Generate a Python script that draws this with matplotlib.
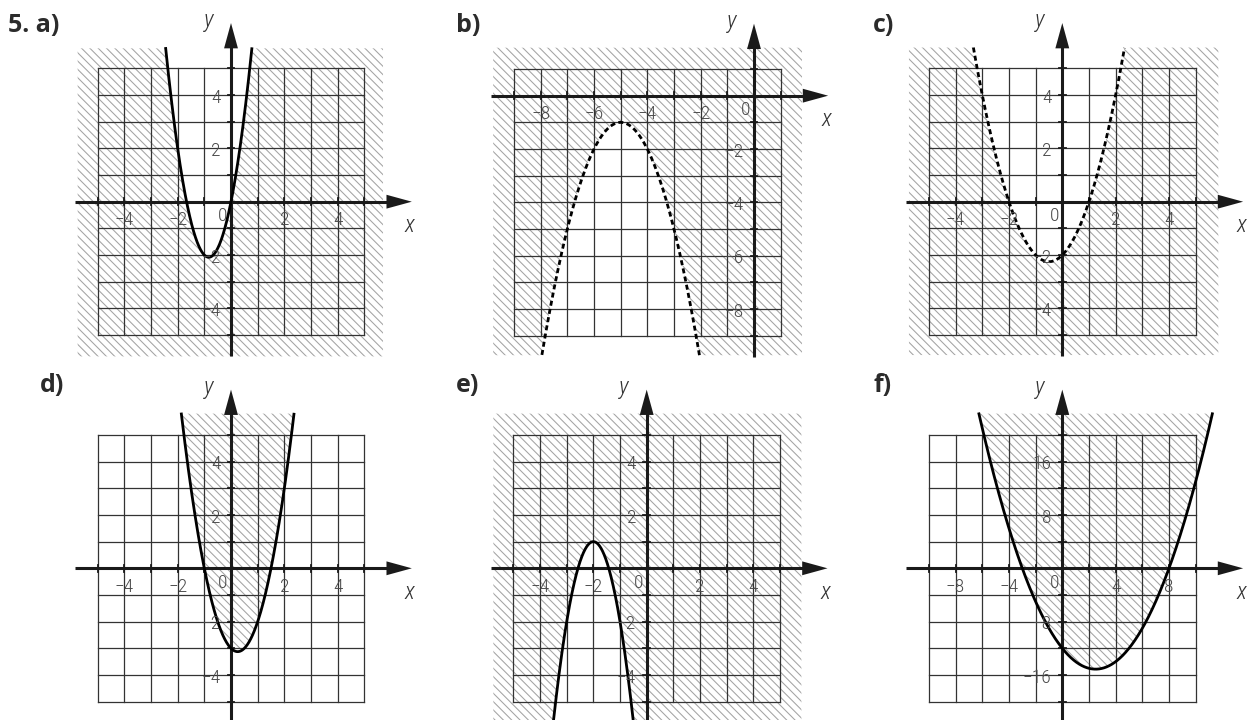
import numpy as np
import matplotlib.pyplot as plt

W, H = 1247, 720
UNIT = 26.67  # pixels per grid cell

# panel titles
titles = ["5. a)", "b)", "c)", "d)", "e)", "f)"]

# quadratic coefficients [a, b, c]
coef_a = [3, 5, 0]
coef_b = [-1, -10, -26]
coef_c = [1, 1, -2]
coef_d = [2, -1, -3]
coef_e = [-3, -12, -11]
coef_f = [0.5, -2.5, -12]

# grid extent in cells: x0, x1, y0, y1
grid_std = [-5, 5, -5, 5]
grid_b = [-9, 1, -9, 1]

# data units per grid cell (x, y)
step_std = [1, 1]
step_f = [2, 4]

# tick labels
xlab_std = [-4, -2, 2, 4]
ylab_std = [-4, -2, 2, 4]
xlab_b = [-8, -6, -4, -2]
ylab_b = [-8, -6, -4, -2]
xlab_f = [-8, -4, 4, 8]
ylab_f = [-16, -8, 8, 16]

# which side of the curve is hatched, and whether the border is dashed
side = ["below", "above", "below", "above", "above", "above"]
dashed = [False, True, True, False, False, False]

hatch_col = "#a3a3a3"
plt.rcParams["hatch.color"] = hatch_col
plt.rcParams["hatch.linewidth"] = 0.75

label_font = ["Roboto Condensed", "Liberation Sans Narrow", "Liberation Sans"]
title_font = ["Open Sans", "DejaVu Sans"]
ink = "#1a1a1a"
label_col = "#4a4a4a"

fig = plt.figure(figsize=(W / 100, H / 100), dpi=100)


def fmt(v):
    return str(v).replace("-", "\u2212")


def draw_panel(ox, oy, title, tx, ty, coef, grid, step, xlabs, ylabs, box, mode, dash):
    gx0, gx1, gy0, gy1 = grid
    xlo, xhi = gx0 - 1.3, gx1 + 2.4
    ylo, yhi = gy0 - 1.3, gy1 + 2.4
    ax = fig.add_axes([(ox + xlo * UNIT) / W, 1 - (oy - ylo * UNIT) / H,
                       (xhi - xlo) * UNIT / W, (yhi - ylo) * UNIT / H])
    ax.set_xlim(xlo, xhi)
    ax.set_ylim(ylo, yhi)
    ax.set_axis_off()
    ax.patch.set_visible(False)

    # curve in cell units
    bx0, bx1, by0, by1 = box
    xs = np.linspace(bx0, bx1, 4000)
    ys = np.polyval(coef, xs * step[0]) / step[1]
    yc = np.clip(ys, by0, by1)

    # hatched solution region
    if mode == "below":
        ax.fill_between(xs, by0, yc, facecolor="none", edgecolor=hatch_col,
                        hatch="\\\\\\\\", linewidth=0, zorder=1)
    else:
        ax.fill_between(xs, yc, by1, facecolor="none", edgecolor=hatch_col,
                        hatch="\\\\\\\\", linewidth=0, zorder=1)

    # grid
    for i in range(gx0, gx1 + 1):
        ax.plot([i, i], [gy0, gy1], color="#333333", lw=0.9, zorder=2)
    for j in range(gy0, gy1 + 1):
        ax.plot([gx0, gx1], [j, j], color="#333333", lw=0.9, zorder=2)

    # axes with arrows
    xtip, ytip = gx1 + 1.78, gy1 + 1.7
    ax.plot([gx0 - 0.85, xtip - 0.5], [0, 0], color=ink, lw=2.2, zorder=3,
            solid_capstyle="butt")
    ax.plot([0, 0], [gy0 - 0.78, ytip - 0.5], color=ink, lw=2.2, zorder=3,
            solid_capstyle="butt")
    ax.fill([xtip - 0.95, xtip, xtip - 0.95], [0.26, 0, -0.26], color=ink,
            lw=0, zorder=3)
    ax.fill([0.26, 0, -0.26], [ytip - 0.95, ytip, ytip - 0.95], color=ink,
            lw=0, zorder=3)
    for i in range(gx0, gx1 + 1):
        if i != 0:
            ax.plot([i, i], [-0.13, 0.13], color=ink, lw=1.3, zorder=3)
    for j in range(gy0, gy1 + 1):
        if j != 0:
            ax.plot([-0.13, 0.13], [j, j], color=ink, lw=1.3, zorder=3)

    # curve
    yplot = np.where((ys >= by0) & (ys <= by1), ys, np.nan)
    if dash:
        ax.plot(xs, yplot, color="black", lw=2.0, dashes=(1.8, 1.2), zorder=4)
    else:
        ax.plot(xs, yplot, color="black", lw=2.0, zorder=4)

    # tick labels
    for v in xlabs:
        ax.text(v / step[0], -0.7, fmt(v), ha="center", va="center",
                fontsize=14, color=label_col, family=label_font,
                fontweight="light", zorder=5)
    for v in ylabs:
        ax.text(-0.4, v / step[1] - 0.1, fmt(v), ha="right", va="center",
                fontsize=14, color=label_col, family=label_font,
                fontweight="light", zorder=5)
    ax.text(-0.3, -0.55, "0", ha="center", va="center", fontsize=14,
            color=label_col, family=label_font, fontweight="light", zorder=5)
    ax.text(gx1 + 1.7, -0.9, "x", ha="center", va="center", fontsize=17,
            style="italic", color="#333333", family=label_font,
            fontweight="light", zorder=5)
    ax.text(-0.85, gy1 + 1.78, "y", ha="center", va="center", fontsize=17,
            style="italic", color="#333333", family=label_font,
            fontweight="light", zorder=5)

    fig.text(tx / W, 1 - ty / H, title, ha="left", va="baseline", fontsize=18,
             fontweight="bold", color="#2b2b2b", family=title_font)


draw_panel(231, 201.7, titles[0], 8, 32, coef_a, grid_std, step_std,
           xlab_std, ylab_std, [-5.75, 5.7, -5.8, 5.75], side[0], dashed[0])
draw_panel(754, 95.7, titles[1], 456, 32, coef_b, grid_b, step_std,
           xlab_b, ylab_b, [-9.78, 1.8, -9.73, 1.8], side[1], dashed[1])
draw_panel(1062.3, 201.7, titles[2], 873, 32, coef_c, grid_std, step_std,
           xlab_std, ylab_std, [-5.75, 5.85, -5.75, 5.78], side[2], dashed[2])
draw_panel(231, 568.3, titles[3], 40, 392, coef_d, grid_std, step_std,
           xlab_std, ylab_std, [-5.8, 5.8, -5.8, 5.8], side[3], dashed[3])
draw_panel(646.7, 568.3, titles[4], 456, 392, coef_e, grid_std, step_std,
           xlab_std, ylab_std, [-5.75, 5.8, -5.8, 5.8], side[4], dashed[4])
draw_panel(1062.3, 568.3, titles[5], 873, 392, coef_f, grid_std, step_f,
           xlab_f, ylab_f, [-5.8, 5.8, -5.8, 5.8], side[5], dashed[5])

fig.savefig("out.png", dpi=100)
